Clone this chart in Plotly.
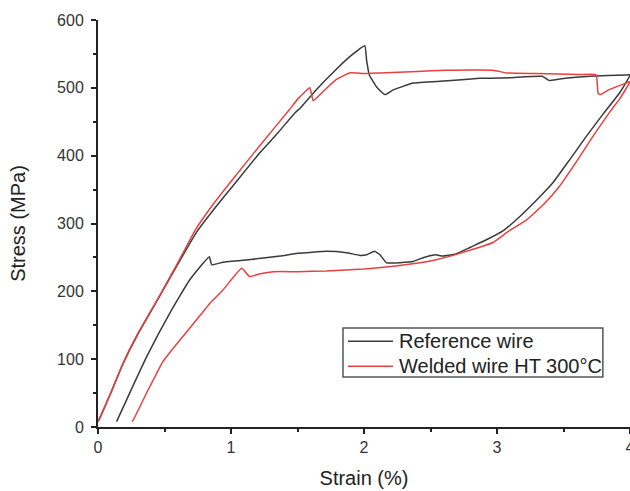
import plotly.graph_objects as go

# Reference wire: loading, upper plateau, unloading, lower plateau, final unloading
ref_strain = [0.00, 0.02, 0.10, 0.19, 0.30, 0.47, 0.60, 0.74, 0.90, 1.00, 1.22, 1.35, 1.48,
              1.52, 1.65, 1.79, 1.90, 2.006, 2.02, 2.04, 2.10, 2.157, 2.22, 2.37, 2.60, 2.87,
              3.10, 3.34, 3.39, 3.47, 3.70, 3.97, 4.00,
              3.92, 3.80, 3.67, 3.55, 3.42, 3.30, 3.17, 3.05, 2.92, 2.80, 2.69, 2.59, 2.54,
              2.45, 2.37, 2.17, 2.12, 2.08, 2.02, 1.97, 1.87, 1.72, 1.50, 1.37, 1.15, 0.94,
              0.855, 0.837, 0.69, 0.54, 0.367, 0.25, 0.14]
ref_stress = [8, 16, 52, 94, 137, 195, 240, 287, 328, 352, 405, 433, 463,
              470, 499, 527, 547, 562, 540, 519, 500, 490, 497, 507, 510, 514,
              515, 517, 511, 513, 517, 519, 519,
              492, 462, 428, 395, 360, 335, 310, 290, 276, 265, 255, 252, 254,
              250, 244, 242, 254, 259, 254, 253, 257, 259, 256, 252, 247, 243,
              239, 251, 217, 168, 104, 55, 8]

# Welded wire HT 300°C
weld_strain = [0.00, 0.02, 0.10, 0.19, 0.30, 0.47, 0.60, 0.73, 0.88, 1.00, 1.23, 1.44, 1.50,
               1.593, 1.618, 1.70, 1.79, 1.89, 2.00, 2.12, 2.40, 2.62, 2.97, 3.07, 3.30, 3.62,
               3.745, 3.76, 3.78, 3.84, 3.97, 4.00,
               3.92, 3.85, 3.72, 3.60, 3.47, 3.35, 3.22, 3.09, 2.97, 2.87, 2.77, 2.67, 2.55,
               2.42, 2.22, 2.00, 1.72, 1.50, 1.32, 1.22, 1.14, 1.08, 0.94, 0.84, 0.77, 0.59,
               0.49, 0.467, 0.37, 0.267, 0.255]
weld_stress = [8, 16, 52, 95, 138, 196, 242, 290, 332, 362, 418, 468, 483,
               500, 481, 496, 512, 522, 521, 522, 524, 526, 526, 522, 521, 519.5,
               519.5, 492, 490, 497, 507, 509,
               483, 465, 428, 392, 355, 328, 305, 289, 272, 265, 259, 253, 247,
               242, 237, 233, 230, 229, 229, 226, 222, 234, 202, 182, 165, 122,
               97, 89, 52, 11, 8]

series_names = ["Reference wire", "Welded wire HT 300°C"]
series_colors = ["#3a3a3a", "#e8403f"]

fig = go.Figure()
for name, xs, ys, col in [(series_names[0], ref_strain, ref_stress, series_colors[0]),
                          (series_names[1], weld_strain, weld_stress, series_colors[1])]:
    fig.add_trace(go.Scatter(x=xs, y=ys, mode="lines", name=name, showlegend=False,
                             line=dict(color=col, width=1.5, shape="spline", smoothing=0.35)))

font_family = "Liberation Sans, Arial, sans-serif"
axis_common = dict(
    showline=True, linecolor="#222", linewidth=2,
    ticks="outside", ticklen=5, tickwidth=2, tickcolor="#222",
    showgrid=False, zeroline=False, mirror=False, automargin=False,
    tickfont=dict(family=font_family, size=16, color="#333"),
    title_font=dict(family=font_family, size=20, color="#222"),
    ticklabeloverflow="allow",
)

fig.update_xaxes(range=[0, 4], tick0=0, dtick=1,
                 minor=dict(ticks="outside", ticklen=3, tickwidth=2, tickcolor="#222", dtick=0.5),
                 title_text="Strain (%)", title_standoff=16, **axis_common)
fig.update_yaxes(range=[0, 600], tick0=0, dtick=100,
                 minor=dict(ticks="outside", ticklen=3, tickwidth=2, tickcolor="#222", dtick=50),
                 title_text="Stress (MPa)", title_standoff=26, ticklabelstandoff=4, **axis_common)

# Boxed key in the lower right of the plot area
box_x0, box_x1, box_y0, box_y1 = 0.4605, 0.949, 0.123, 0.2435
row_y = [0.2105, 0.149]
fig.add_shape(type="rect", xref="paper", yref="paper",
              x0=box_x0, x1=box_x1, y0=box_y0, y1=box_y1,
              line=dict(color="#555", width=1.5), fillcolor="white", layer="above")
for name, col, yy in zip(series_names, series_colors, row_y):
    fig.add_shape(type="line", xref="paper", yref="paper",
                  x0=0.470, x1=0.5545, y0=yy, y1=yy,
                  line=dict(color=col, width=1.5), layer="above")
    fig.add_annotation(xref="paper", yref="paper", x=0.5625, y=yy,
                       xanchor="left", yanchor="middle", showarrow=False, text=name,
                       font=dict(family=font_family, size=20, color="#222"))

fig.update_layout(
    width=630, height=491,
    margin=dict(l=98, r=0, t=20, b=64, autoexpand=False),
    paper_bgcolor="white", plot_bgcolor="white",
)

fig.write_html("out.html")
